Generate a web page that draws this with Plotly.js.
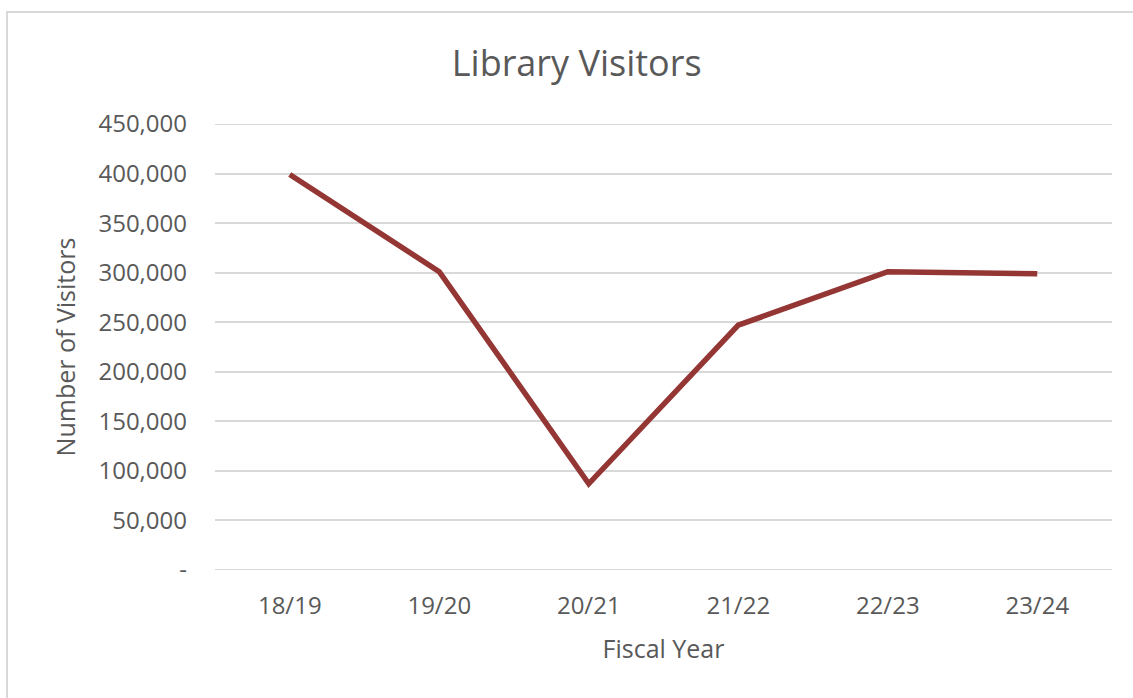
<!DOCTYPE html>
<html>
<head>
<meta charset="utf-8">
<script src="https://cdn.plot.ly/plotly-3.0.1.min.js"></script>
<style>
  html, body { margin: 0; padding: 0; background: #ffffff; overflow: hidden; }
  #wrap { position: relative; width: 1133px; height: 698px; }
  #chart { position: absolute; left: 0; top: 0; width: 1133px; height: 698px; }
  #frame { position: absolute; left: 6px; top: 11px; width: 1140px; height: 700px;
           border: 2px solid #d9d9d9; pointer-events: none; box-sizing: border-box; }
</style>
</head>
<body>
<div id="wrap">
  <div id="chart"></div>
  <div id="frame"></div>
</div>
<script>
const fiscalYears = ["18/19", "19/20", "20/21", "21/22", "22/23", "23/24"];
const visitors = [399000, 301000, 87000, 247000, 301000, 299000];
const yTickValues = [0, 50000, 100000, 150000, 200000, 250000, 300000, 350000, 400000, 450000];
const yTickLabels = ["-", "50,000", "100,000", "150,000", "200,000", "250,000", "300,000", "350,000", "400,000", "450,000"];

const textColor = "#595959";
const gridColor = "#d9d9d9";
const fontFamily = "'Open Sans', 'DejaVu Sans', sans-serif";

const trace = {
  type: "scatter",
  mode: "lines",
  x: fiscalYears,
  y: visitors,
  line: { color: "#943634", width: 5.5 },
  hoverinfo: "x+y"
};

const yMin = yTickValues[0];
const yMax = yTickValues[yTickValues.length - 1];

// Plotly omits gridlines that sit exactly on the plot edges; draw those two as shapes.
const edgeGrid = [yMin, yMax].map(v => ({
  type: "line", xref: "paper", yref: "y",
  x0: 0, x1: 1, y0: v, y1: v,
  line: { color: gridColor, width: 2 },
  layer: "below"
}));

const layout = {
  width: 1133,
  height: 698,
  margin: { l: 215, r: 21, t: 124, b: 128 },
  paper_bgcolor: "rgba(0,0,0,0)",
  plot_bgcolor: "rgba(0,0,0,0)",
  showlegend: false,
  font: { family: fontFamily, color: textColor },
  title: {
    text: "Library Visitors",
    font: { size: 36, color: textColor, family: fontFamily },
    x: 0.509, xanchor: "center",
    y: 1 - 63 / 698, yref: "container", yanchor: "middle"
  },
  shapes: edgeGrid,
  xaxis: {
    type: "category",
    range: [-0.5, 5.5],
    showgrid: false,
    zeroline: false,
    showline: false,
    ticks: "",
    ticklabelstandoff: 19,
    tickfont: { size: 24, color: textColor },
    title: { text: "Fiscal Year", font: { size: 25, color: textColor }, standoff: 20 }
  },
  yaxis: {
    range: [yMin, yMax],
    tickvals: yTickValues,
    ticktext: yTickLabels,
    showgrid: true,
    gridcolor: gridColor,
    gridwidth: 2,
    zeroline: false,
    showline: false,
    ticks: "",
    ticklabelstandoff: 27,
    tickfont: { size: 24, color: textColor },
    title: { text: "Number of Visitors", font: { size: 25, color: textColor }, standoff: 15 }
  }
};

Plotly.newPlot("chart", [trace], layout, { displayModeBar: false, staticPlot: true });
</script>
</body>
</html>
